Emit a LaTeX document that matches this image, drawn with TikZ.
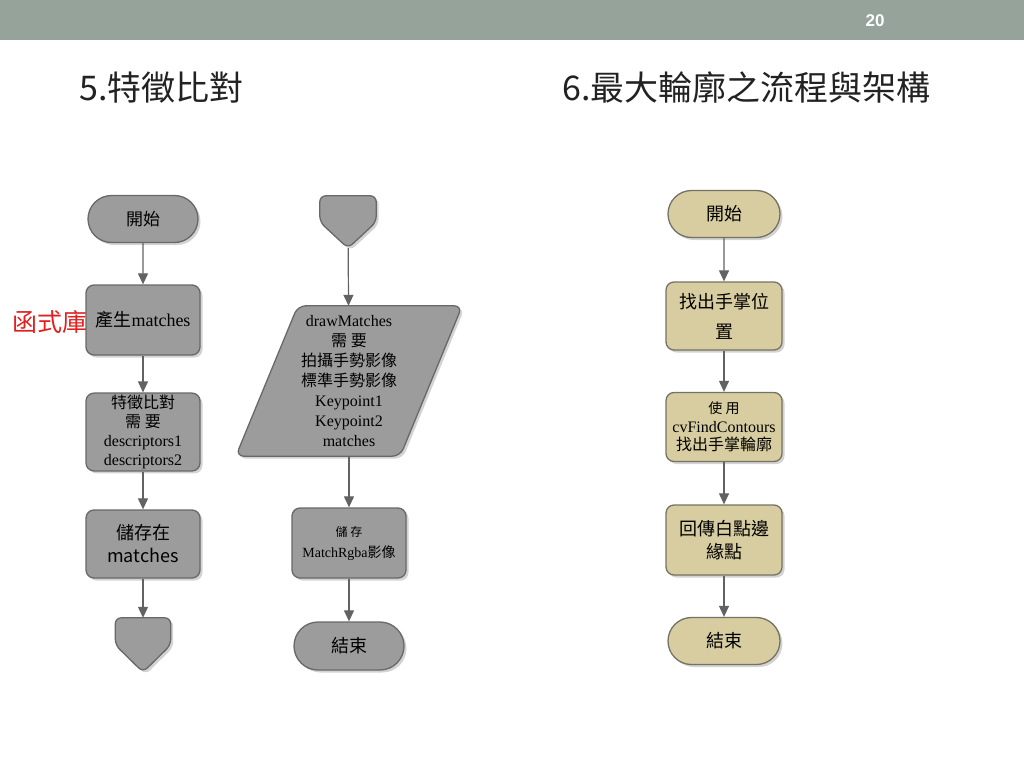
\documentclass[tikz,border=0pt]{standalone}
\usepackage{fontspec}
\setmainfont{Liberation Serif}
\newfontfamily\cjk{Noto Sans CJK TC}
\newfontfamily\headfont{Liberation Sans}
\usepackage{xcolor}
\usetikzlibrary{shapes.misc}
\usetikzlibrary{shadows}
\usetikzlibrary{backgrounds}
\usetikzlibrary{calc}
\usetikzlibrary{positioning, arrows.meta}

\definecolor{bargray}{RGB}{149,163,155}
\definecolor{boxgray}{RGB}{156,156,156}
\definecolor{edgegray}{RGB}{104,104,104}
\definecolor{boxtan}{RGB}{216,205,160}
\definecolor{edgetan}{RGB}{116,114,100}
\definecolor{linegray}{RGB}{98,98,98}
\definecolor{libred}{RGB}{226,32,32}
\definecolor{titleink}{RGB}{34,34,34}

\newcommand{\zh}[1]{{\cjk #1}}
\newcommand{\fs}[2]{\fontsize{#1}{#2}\selectfont}

\begin{document}
\begin{tikzpicture}[x=1pt,y=-1pt]
    % Define the styles for boxes and arrows
    \tikzstyle{every node}=[align=center, inner sep=2pt]
    \tikzstyle{shade}=[drop shadow={opacity=0.35, shadow xshift=2.5pt, shadow yshift=-2.5pt}]
    \tikzstyle{greyfill}=[draw=edgegray, fill=boxgray, line width=1.3pt, shade]
    \tikzstyle{tanfill}=[draw=edgetan, fill=boxtan, line width=1.3pt, shade]
    \tikzstyle{proc}=[rectangle, rounded corners=8pt, minimum width=114pt, minimum height=70pt]
    \tikzstyle{term}=[rounded rectangle, minimum width=114pt, minimum height=47pt]
    \tikzstyle{holder}=[rectangle, draw=none, inner sep=0pt]
    \tikzstyle{flow}=[draw=linegray, line width=1.2pt, -{Triangle[length=11pt,width=10pt]}]

    \useasboundingbox (0,0) rectangle (1024,768);

    % Header bar and titles
    \fill[bargray] (0,0) rectangle (1024,40);
    \node[text=white, font=\headfont\bfseries\fs{17}{20}] (page) at (875,21) {20};
    \node[anchor=west, text=titleink, font=\cjk\fs{34}{36}] (title1) at (77,88) {5.特徵比對};
    \node[anchor=west, text=titleink, font=\cjk\fs{34}{36}] (title2) at (560,88) {6.最大輪廓之流程與架構};

    % Left chart
    \node[term, greyfill, font=\cjk\fs{17}{20}] (start1) at (143,219) {開始};
    \node[proc, greyfill, font=\fs{18}{21}] (make) at (143,320) {\zh{產生}matches};
    \node[proc, greyfill, minimum height=76pt, font=\fs{16}{19}] (match) at (143,432)
        {\zh{特徵比對}\\\zh{需 要}\\descriptors1\\descriptors2};
    \node[proc, greyfill, minimum height=68pt, font=\cjk\fs{18}{23}] (store) at (143,544) {儲存在\\matches};
    \node[holder, minimum width=55pt, minimum height=54pt] (link1) at (143,645) {};
    \node[text=libred, font=\cjk\fs{25}{28}, inner sep=0pt] (lib) at (50,322) {函式庫};

    % Middle chart
    \node[holder, minimum width=56pt, minimum height=52pt] (link2) at (348,222) {};
    \node[holder, minimum width=226pt, minimum height=150pt, font=\fs{16}{20}] (draw) at (349,381)
        {drawMatches\\\zh{需 要}\\\zh{拍攝手勢影像}\\\zh{標準手勢影像}\\Keypoint1\\Keypoint2\\matches};
    \node[proc, greyfill, font=\fs{14}{21}] (save) at (349,543) {\zh{\fs{12}{21}儲 存}\\MatchRgba\zh{影像}};
    \node[term, greyfill, minimum height=48pt, font=\cjk\fs{18}{20}] (end1) at (349,646) {結束};

    % Right chart
    \node[term, tanfill, minimum width=116pt, font=\cjk\fs{18}{20}] (start2) at (724,214) {開始};
    \node[proc, tanfill, minimum width=116pt, minimum height=68pt, font=\cjk\fs{18}{30}] (find) at (724,316) {找出手掌位\\置};
    \node[proc, tanfill, minimum width=116pt, minimum height=69pt, font=\fs{16}{18.5}] (cont) at (724,427)
        {\zh{\fs{14}{18.5}使 用}\\cvFindContours\\\zh{找出手掌輪廓}};
    \node[proc, tanfill, minimum width=116pt, minimum height=70pt, font=\cjk\fs{18}{23}] (back) at (724,540) {回傳白點邊\\緣點};
    \node[term, tanfill, minimum width=116pt, font=\cjk\fs{18}{20}] (end2) at (724,641) {結束};

    % Connector shapes and the data box behind their nodes
    \begin{scope}[on background layer]
        \draw[greyfill, rounded corners=6pt] (link1.north west) -- (link1.north east) -- (link1.east)
            -- (link1.south) -- (link1.west) -- cycle;
        \draw[greyfill, rounded corners=6pt] (link2.north west) -- (link2.north east) -- (link2.east)
            -- (link2.south) -- (link2.west) -- cycle;
        \draw[greyfill, rounded corners=8pt] ($(draw.north west)+(62,0)$) -- (draw.north east)
            -- ($(draw.south east)-(62,0)$) -- (draw.south west) -- cycle;
    \end{scope}

    % Arrows
    \draw[flow] (start1) -- (make);
    \draw[flow] (make) -- (match);
    \draw[flow] (match) -- (store);
    \draw[flow] (store) -- (link1);
    \draw[flow] (link2) -- (draw);
    \draw[flow] (draw) -- (save);
    \draw[flow] (save) -- (end1);
    \draw[flow] (start2) -- (find);
    \draw[flow] (find) -- (cont);
    \draw[flow] (cont) -- (back);
    \draw[flow] (back) -- (end2);
\end{tikzpicture}
\end{document}
